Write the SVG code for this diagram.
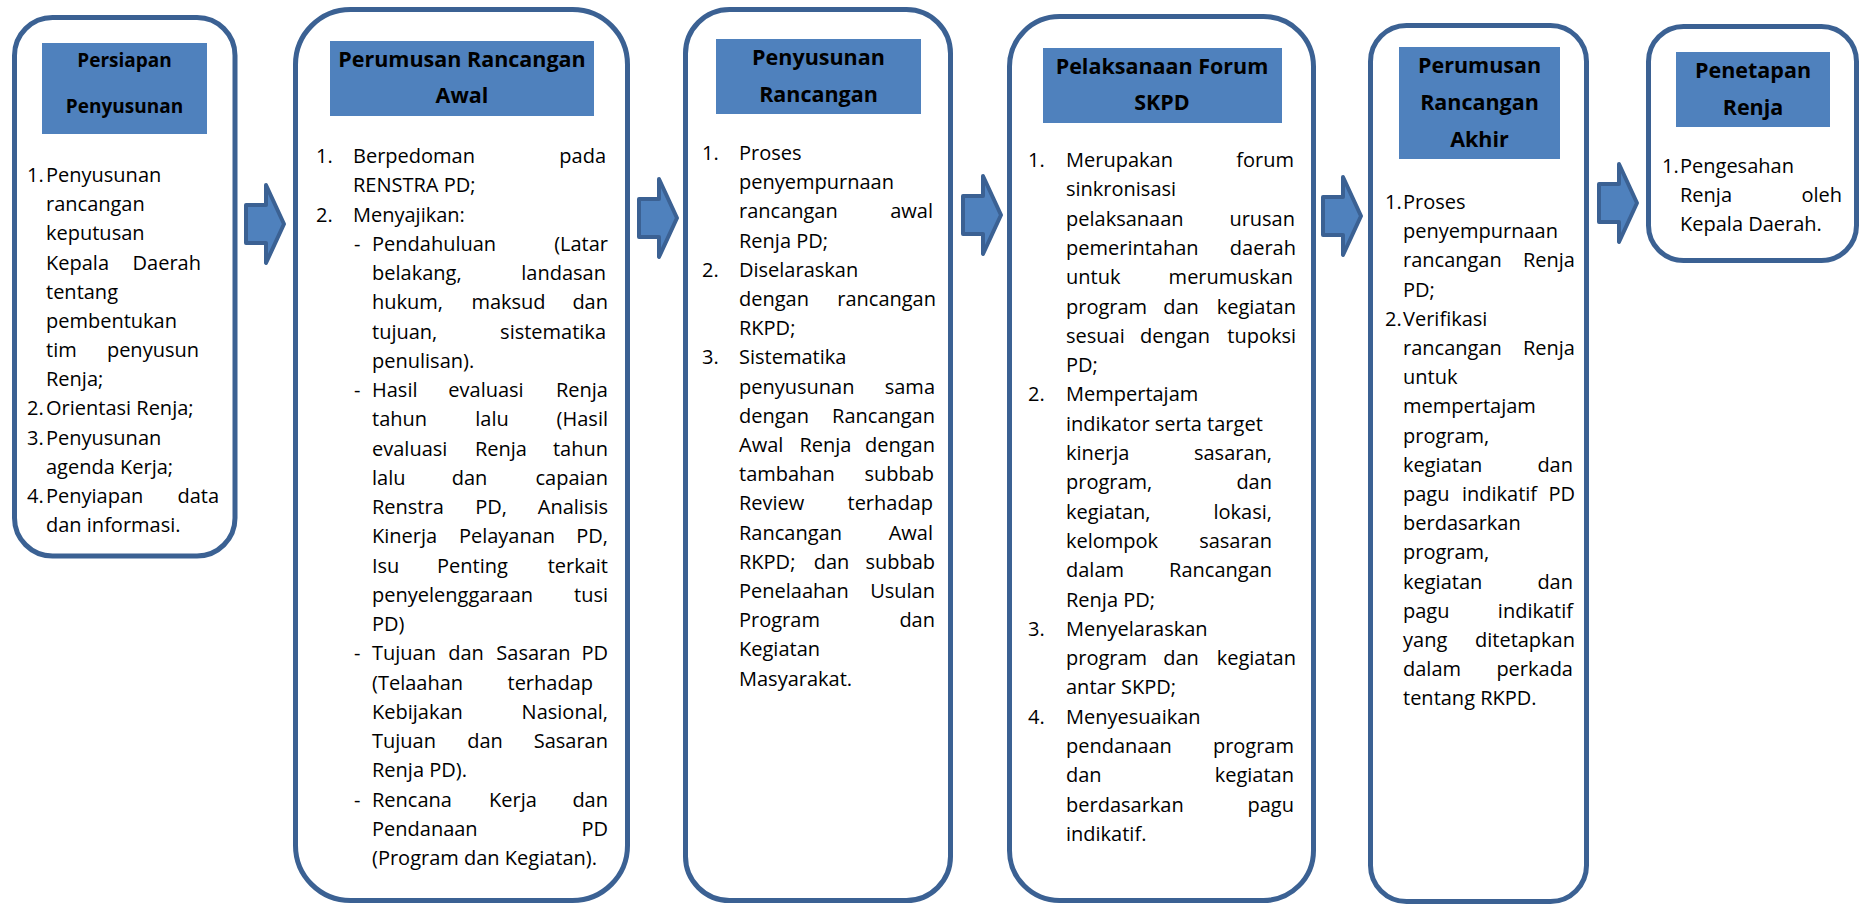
<svg xmlns="http://www.w3.org/2000/svg" xmlns:xlink="http://www.w3.org/1999/xlink" width="1867" height="905" viewBox="0 0 1867 905">
<defs>
<style>
.box{fill:#fff;stroke:#3B6193;stroke-width:5}
.hd{fill:#4F81BD}
.ht{font-family:"Open Sans",sans-serif;font-weight:700;font-size:21.5px;text-anchor:middle;fill:#000}
.t{font-family:"Open Sans",sans-serif;font-size:20px;fill:#000}
.e{text-anchor:end}
.m{text-anchor:middle}
.arr{fill:#4F81BD;stroke:#3B6193;stroke-width:4;stroke-linejoin:round}
</style>
<path id="arr" class="arr" d="M2,22 H22 V2 L40,41 L22,80 V60 H2 Z"/>
</defs>
<rect width="1867" height="905" fill="#fff"/>

<g id="connectors">
<use href="#arr" x="244" y="183"/>
<use href="#arr" x="637" y="177"/>
<use href="#arr" x="961" y="174"/>
<use href="#arr" x="1321" y="175"/>
<use href="#arr" x="1597" y="162"/>
</g>

<g id="node1">
<rect class="box" x="14.5" y="17.5" width="220.5" height="538.5" rx="38"/>
<rect class="hd" x="42" y="43" width="165" height="91"/>
<text class="ht" x="124.5" y="67" style="font-size:19px">Persiapan</text>
<text class="ht" x="124.5" y="112.6" style="font-size:19px">Penyusunan</text>
<g class="t">
<text x="27" y="182">1.</text><text x="46" y="182">Penyusunan</text>
<text x="46" y="211.2">rancangan</text>
<text x="46" y="240.3">keputusan</text>
<text x="46" y="269.5">Kepala</text><text class="e" x="201" y="269.5">Daerah</text>
<text x="46" y="298.7">tentang</text>
<text x="46" y="327.9">pembentukan</text>
<text x="46" y="357">tim</text><text class="e" x="199" y="357">penyusun</text>
<text x="46" y="386.2">Renja;</text>
<text x="27" y="415.4">2.</text><text x="46" y="415.4">Orientasi Renja;</text>
<text x="27" y="444.5">3.</text><text x="46" y="444.5">Penyusunan</text>
<text x="46" y="473.7">agenda Kerja;</text>
<text x="27" y="502.9">4.</text><text x="46" y="502.9">Penyiapan</text><text class="e" x="219" y="502.9">data</text>
<text x="46" y="532">dan informasi.</text>
</g>
</g>

<g id="node2">
<rect class="box" x="295.5" y="9.5" width="332" height="891" rx="55"/>
<rect class="hd" x="330" y="41" width="264" height="75"/>
<text class="ht" x="462" y="67">Perumusan Rancangan</text>
<text class="ht" x="462" y="103">Awal</text>
<g class="t">
<text x="316" y="163">1.</text><text x="353" y="163">Berpedoman</text><text class="e" x="606" y="163">pada</text>
<text x="353" y="192.3">RENSTRA PD;</text>
<text x="316" y="221.5">2.</text><text x="353" y="221.5">Menyajikan:</text>
<text x="354" y="250.8">-</text><text x="372" y="250.8">Pendahuluan</text><text class="e" x="608" y="250.8">(Latar</text>
<text x="372" y="280">belakang,</text><text class="e" x="606" y="280">landasan</text>
<text x="372" y="309.3">hukum,</text><text class="m" x="508.5" y="309.3">maksud</text><text class="e" x="608" y="309.3">dan</text>
<text x="372" y="338.5">tujuan,</text><text class="e" x="606" y="338.5">sistematika</text>
<text x="372" y="367.8">penulisan).</text>
<text x="354" y="397">-</text><text x="372" y="397">Hasil</text><text class="m" x="486" y="397">evaluasi</text><text class="e" x="608" y="397">Renja</text>
<text x="372" y="426.3">tahun</text><text class="m" x="492" y="426.3">lalu</text><text class="e" x="608" y="426.3">(Hasil</text>
<text x="372" y="455.5">evaluasi</text><text class="m" x="501" y="455.5">Renja</text><text class="e" x="608" y="455.5">tahun</text>
<text x="372" y="484.8">lalu</text><text class="m" x="469.5" y="484.8">dan</text><text class="e" x="608" y="484.8">capaian</text>
<text x="372" y="514">Renstra</text><text class="m" x="491" y="514">PD,</text><text class="e" x="608" y="514">Analisis</text>
<text x="372" y="543.3">Kinerja</text><text class="m" x="507" y="543.3">Pelayanan</text><text class="e" x="608" y="543.3">PD,</text>
<text x="372" y="572.5">Isu</text><text class="m" x="472.5" y="572.5">Penting</text><text class="e" x="608" y="572.5">terkait</text>
<text x="372" y="601.8">penyelenggaraan</text><text class="e" x="608" y="601.8">tusi</text>
<text x="372" y="631">PD)</text>
<text x="354" y="660.3">-</text><text x="372" y="660.3">Tujuan</text><text class="m" x="466" y="660.3">dan</text><text class="m" x="533.5" y="660.3">Sasaran</text><text class="e" x="608" y="660.3">PD</text>
<text x="372" y="689.5">(Telaahan</text><text class="e" x="593" y="689.5">terhadap</text>
<text x="372" y="718.8">Kebijakan</text><text class="e" x="608" y="718.8">Nasional,</text>
<text x="372" y="748">Tujuan</text><text class="m" x="485" y="748">dan</text><text class="e" x="608" y="748">Sasaran</text>
<text x="372" y="777.3">Renja PD).</text>
<text x="354" y="806.5">-</text><text x="372" y="806.5">Rencana</text><text class="m" x="513" y="806.5">Kerja</text><text class="e" x="608" y="806.5">dan</text>
<text x="372" y="835.8">Pendanaan</text><text class="e" x="608" y="835.8">PD</text>
<text x="372" y="865">(Program dan Kegiatan).</text>
</g>
</g>

<g id="node3">
<rect class="box" x="685.5" y="9.5" width="265" height="891" rx="44"/>
<rect class="hd" x="716" y="39" width="205" height="75"/>
<text class="ht" x="818.5" y="65">Penyusunan</text>
<text class="ht" x="818.5" y="102">Rancangan</text>
<g class="t">
<text x="702" y="160">1.</text><text x="739" y="160">Proses</text>
<text x="739" y="189.2">penyempurnaan</text>
<text x="739" y="218.4">rancangan</text><text class="e" x="933" y="218.4">awal</text>
<text x="739" y="247.6">Renja PD;</text>
<text x="702" y="276.8">2.</text><text x="739" y="276.8">Diselaraskan</text>
<text x="739" y="306">dengan</text><text class="e" x="936" y="306">rancangan</text>
<text x="739" y="335.2">RKPD;</text>
<text x="702" y="364.4">3.</text><text x="739" y="364.4">Sistematika</text>
<text x="739" y="393.6">penyusunan</text><text class="e" x="935" y="393.6">sama</text>
<text x="739" y="422.8">dengan</text><text class="e" x="935" y="422.8">Rancangan</text>
<text x="739" y="452">Awal</text><text class="m" x="825.5" y="452">Renja</text><text class="e" x="935" y="452">dengan</text>
<text x="739" y="481.2">tambahan</text><text class="e" x="934" y="481.2">subbab</text>
<text x="739" y="510.4">Review</text><text class="e" x="933" y="510.4">terhadap</text>
<text x="739" y="539.6">Rancangan</text><text class="e" x="933" y="539.6">Awal</text>
<text x="739" y="568.8">RKPD;</text><text class="m" x="831.5" y="568.8">dan</text><text class="e" x="935" y="568.8">subbab</text>
<text x="739" y="598">Penelaahan</text><text class="e" x="935" y="598">Usulan</text>
<text x="739" y="627.2">Program</text><text class="e" x="935" y="627.2">dan</text>
<text x="739" y="656.4">Kegiatan</text>
<text x="739" y="685.6">Masyarakat.</text>
</g>
</g>

<g id="node4">
<rect class="box" x="1009.5" y="16.5" width="304" height="884" rx="50"/>
<rect class="hd" x="1043" y="48" width="239" height="75"/>
<text class="ht" x="1162" y="74">Pelaksanaan Forum</text>
<text class="ht" x="1162" y="110">SKPD</text>
<g class="t">
<text x="1028" y="167">1.</text><text x="1066" y="167">Merupakan</text><text class="e" x="1294" y="167">forum</text>
<text x="1066" y="196.3">sinkronisasi</text>
<text x="1066" y="225.6">pelaksanaan</text><text class="e" x="1295" y="225.6">urusan</text>
<text x="1066" y="254.9">pemerintahan</text><text class="e" x="1296" y="254.9">daerah</text>
<text x="1066" y="284.2">untuk</text><text class="e" x="1293" y="284.2">merumuskan</text>
<text x="1066" y="313.5">program</text><text class="m" x="1181" y="313.5">dan</text><text class="e" x="1296" y="313.5">kegiatan</text>
<text x="1066" y="342.8">sesuai</text><text class="m" x="1175" y="342.8">dengan</text><text class="e" x="1296" y="342.8">tupoksi</text>
<text x="1066" y="372.1">PD;</text>
<text x="1028" y="401.4">2.</text><text x="1066" y="401.4">Mempertajam</text>
<text x="1066" y="430.7">indikator serta target</text>
<text x="1066" y="460">kinerja</text><text class="e" x="1272" y="460">sasaran,</text>
<text x="1066" y="489.3">program,</text><text class="e" x="1272" y="489.3">dan</text>
<text x="1066" y="518.6">kegiatan,</text><text class="e" x="1272" y="518.6">lokasi,</text>
<text x="1066" y="547.9">kelompok</text><text class="e" x="1272" y="547.9">sasaran</text>
<text x="1066" y="577.2">dalam</text><text class="e" x="1272" y="577.2">Rancangan</text>
<text x="1066" y="606.5">Renja PD;</text>
<text x="1028" y="635.8">3.</text><text x="1066" y="635.8">Menyelaraskan</text>
<text x="1066" y="665.1">program</text><text class="m" x="1181" y="665.1">dan</text><text class="e" x="1296" y="665.1">kegiatan</text>
<text x="1066" y="694.4">antar SKPD;</text>
<text x="1028" y="723.7">4.</text><text x="1066" y="723.7">Menyesuaikan</text>
<text x="1066" y="753">pendanaan</text><text class="e" x="1294" y="753">program</text>
<text x="1066" y="782.3">dan</text><text class="e" x="1294" y="782.3">kegiatan</text>
<text x="1066" y="811.6">berdasarkan</text><text class="e" x="1294" y="811.6">pagu</text>
<text x="1066" y="840.9">indikatif.</text>
</g>
</g>

<g id="node5">
<rect class="box" x="1370.5" y="25.5" width="216" height="876" rx="36"/>
<rect class="hd" x="1399" y="47" width="161" height="112"/>
<text class="ht" x="1479.5" y="73">Perumusan</text>
<text class="ht" x="1479.5" y="110">Rancangan</text>
<text class="ht" x="1479.5" y="147">Akhir</text>
<g class="t">
<text x="1385" y="209">1.</text><text x="1403" y="209">Proses</text>
<text x="1403" y="238.2">penyempurnaan</text>
<text x="1403" y="267.4">rancangan</text><text class="e" x="1575" y="267.4">Renja</text>
<text x="1403" y="296.6">PD;</text>
<text x="1385" y="325.8">2.</text><text x="1403" y="325.8">Verifikasi</text>
<text x="1403" y="355">rancangan</text><text class="e" x="1575" y="355">Renja</text>
<text x="1403" y="384.2">untuk</text>
<text x="1403" y="413.4">mempertajam</text>
<text x="1403" y="442.6">program,</text>
<text x="1403" y="471.8">kegiatan</text><text class="e" x="1573" y="471.8">dan</text>
<text x="1403" y="501">pagu</text><text class="m" x="1499.5" y="501">indikatif</text><text class="e" x="1575" y="501">PD</text>
<text x="1403" y="530.2">berdasarkan</text>
<text x="1403" y="559.4">program,</text>
<text x="1403" y="588.6">kegiatan</text><text class="e" x="1573" y="588.6">dan</text>
<text x="1403" y="617.8">pagu</text><text class="e" x="1573" y="617.8">indikatif</text>
<text x="1403" y="647">yang</text><text class="e" x="1575" y="647">ditetapkan</text>
<text x="1403" y="676.2">dalam</text><text class="e" x="1573" y="676.2">perkada</text>
<text x="1403" y="705.4">tentang RKPD.</text>
</g>
</g>

<g id="node6">
<rect class="box" x="1648.5" y="26.5" width="208" height="234" rx="35"/>
<rect class="hd" x="1676" y="52" width="154" height="75"/>
<text class="ht" x="1753" y="78">Penetapan</text>
<text class="ht" x="1753" y="115">Renja</text>
<g class="t">
<text x="1662" y="173">1.</text><text x="1680" y="173">Pengesahan</text>
<text x="1680" y="202">Renja</text><text class="e" x="1842" y="202">oleh</text>
<text x="1680" y="231">Kepala Daerah.</text>
</g>
</g>
</svg>
